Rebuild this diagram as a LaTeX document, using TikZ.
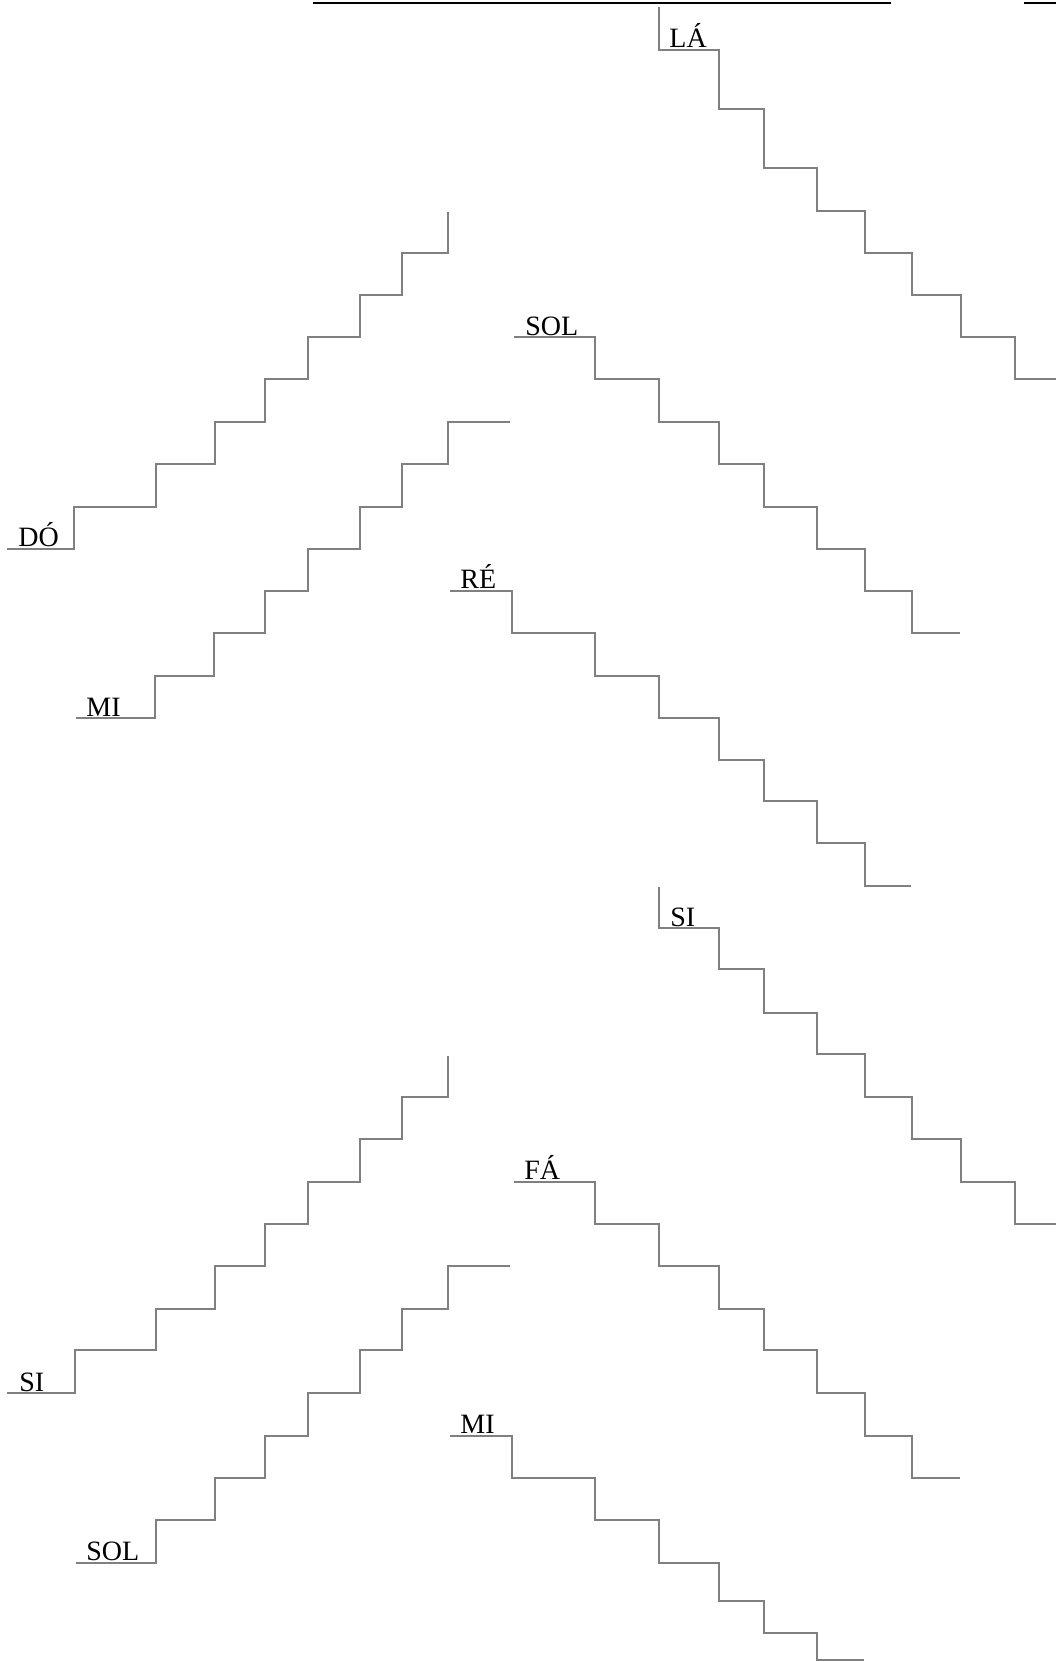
\documentclass[tikz,border=0pt]{standalone}
\usepackage{fontspec}
\setmainfont{Liberation Serif}
\usepackage{tikz}

\begin{document}
\begin{tikzpicture}[
    x=0.5pt, y=-0.5pt,
    stair/.style={draw=black!50, line width=0.6pt},
    rule/.style={draw=black, line width=1pt},
    every node/.style={anchor=base west, inner sep=0pt, font=\fontsize{14}{16}\selectfont}
]
\useasboundingbox (0,0) rectangle (1056,1662);

\draw[rule] (313,3) -- (891,3);
\draw[rule] (1024,3) -- (1056,3);

\draw[stair] (659,7) |- (719,50) |- (764,109) |- (817,168) |- (865,211) |- (912,253) |- (961,295) |- (1015,337) |- (1056,379);
\draw[stair] (514,337) -| (595,379) -| (659,422) -| (719,464) -| (764,507) -| (817,549) -| (865,591) -| (912,633) -- (960,633);
\draw[stair] (7,549) -| (74,507) -| (156,464) -| (215,422) -| (265,379) -| (308,337) -| (360,295) -| (402,253) -| (448,212);
\draw[stair] (76,718) -| (155,676) -| (214,633) -| (265,591) -| (308,549) -| (360,507) -| (402,464) -| (448,422) -- (510,422);
\draw[stair] (450,591) -| (512,633) -| (595,676) -| (659,718) -| (719,760) -| (764,801) -| (817,843) -| (865,886) -- (911,886);

\draw[stair] (659,887) |- (719,928) |- (764,969) |- (817,1013) |- (865,1054) |- (912,1097) |- (961,1139) |- (1015,1182) |- (1056,1224);
\draw[stair] (514,1182) -| (595,1224) -| (659,1266) -| (719,1309) -| (764,1350) -| (817,1393) -| (865,1436) -| (912,1478) -- (960,1478);
\draw[stair] (7,1393) -| (75,1350) -| (156,1309) -| (215,1266) -| (265,1224) -| (308,1182) -| (360,1139) -| (402,1097) -| (448,1056);
\draw[stair] (76,1563) -| (156,1520) -| (215,1478) -| (265,1436) -| (308,1393) -| (360,1350) -| (402,1309) -| (448,1266) -- (510,1266);
\draw[stair] (450,1436) -| (512,1478) -| (595,1520) -| (659,1563) -| (719,1601) -| (764,1633) -| (817,1660) -- (864,1660);

\node (la) at (669,47) {LÁ};
\node (sol) at (525,335) {SOL};
\node (do) at (18,546) {DÓ};
\node (re) at (460,588) {RÉ};
\node (mi) at (86,716) {MI};
\node (si) at (670,926) {SI};
\node (fa) at (524,1179) {FÁ};
\node (sib) at (19,1391) {SI};
\node (mib) at (460,1433) {MI};
\node (solb) at (86,1560) {SOL};

\end{tikzpicture}
\end{document}
